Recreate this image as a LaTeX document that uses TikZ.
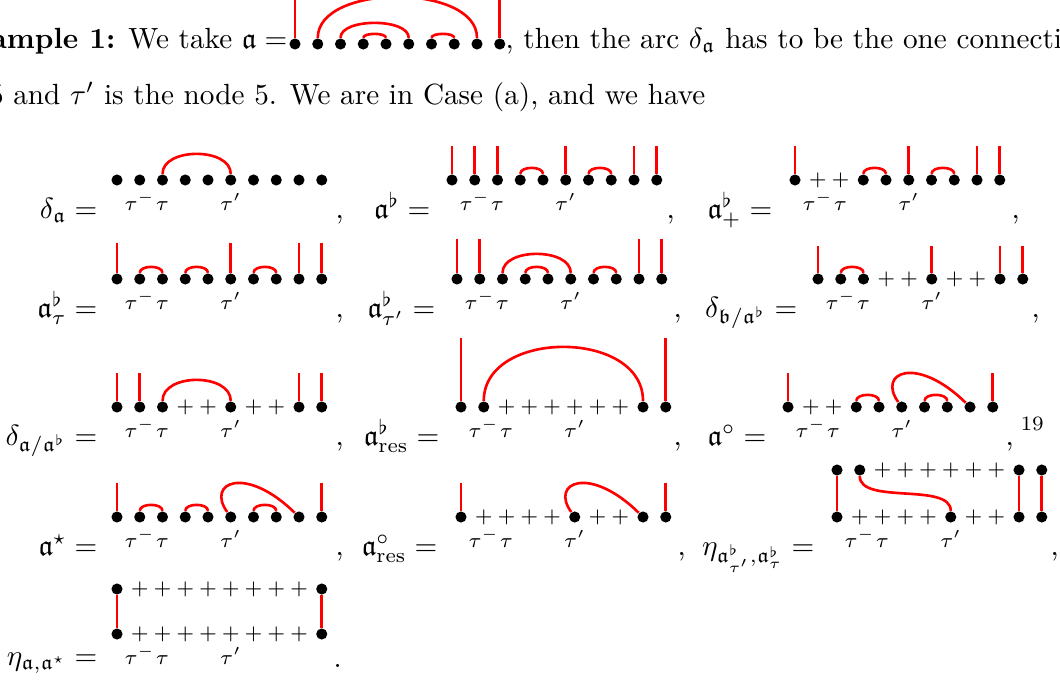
\documentclass[tikz,border=0pt]{standalone}
\usepackage{amssymb}
\usetikzlibrary{calc}
\tikzset{
  nd/.style={circle,fill=black,inner sep=0pt,minimum size=3.8pt},
  np/.style={inner sep=0pt,font=\scriptsize},
  rl/.style={draw=red,line width=0.9pt},
  lab/.style={anchor=base,inner sep=0pt,font=\scriptsize},
  eqn/.style={anchor=base east,inner sep=0pt},
  txt/.style={anchor=base west,inner sep=0pt},
}
\newcommand\mkrow[4]{\foreach \ty [count=\i] in {#4} {\node[n\ty] (#1\i) at ({#2+22.75*(\i-1)},#3) {\if\ty p$+$\fi};}}
\newcommand\mklab[2]{%
  \node[lab] (#1lm) at (#12 |- 0,#2) {$\tau^-$};
  \node[lab] (#1lt) at (#13 |- 0,#2) {$\tau$};
  \node[lab] (#1lp) at (#16 |- 0,#2) {$\tau'$};}
\newcommand\vl[2]{\coordinate (#1t) at ($(#1)+(0,-#2)$); \draw[rl] (#1) -- (#1t);}
\newcommand\arcc[3]{\draw[rl] (#1) .. controls +(0,{-(#3-1.4)/0.75}) and +(0,{-(#3-1.4)/0.75}) .. (#2);}
\newcommand\xarc[2]{\draw[rl] (#1) .. controls +(-25,-35) and +(-53,-52) .. (#2);}
\begin{document}
\begin{tikzpicture}[x=0.3425pt,y=-0.3425pt]
\useasboundingbox (0,0) rectangle (1060,681);
\clip (0,0) rectangle (1060,681);
% top text
\node[eqn] (t1) at (288,48) {\textbf{Example 1:} We take $\mathfrak{a}=$};
\node[txt] (t2) at (505,48) {, then the arc $\delta_{\mathfrak a}$ has to be the one connecting};
\node[eqn] (t3) at (706,104) {5 and $\tau'$ is the node 5. We are in Case (a), and we have};
\mkrow{T}{295}{44}{d,d,d,d,d,d,d,d,d,d}
\vl{T1}{52}\vl{T10}{52}
\arcc{T2}{T9}{47}\arcc{T3}{T6}{21}\arcc{T4}{T5}{10}\arcc{T7}{T8}{10}
% row 1
\node[eqn] (eA) at (98,218) {$\delta_{\mathfrak a} =$};
\mkrow{A}{117}{180}{d,d,d,d,d,d,d,d,d,d}
\arcc{A3}{A6}{26}
\mklab{A}{210}
\node[txt] (cA) at (335,218) {,};
\node[eqn] (eB) at (431,218) {$\mathfrak a^\flat =$};
\mkrow{B}{452}{180}{d,d,d,d,d,d,d,d,d,d}
\vl{B1}{34}\vl{B2}{34}\vl{B3}{34}\vl{B6}{34}\vl{B9}{34}\vl{B10}{34}
\arcc{B4}{B5}{12}\arcc{B7}{B8}{12}
\mklab{B}{210}
\node[txt] (cB) at (666,218) {,};
\node[eqn] (eC) at (773,218) {$\mathfrak a^\flat_+ =$};
\mkrow{C}{795}{180}{d,p,p,d,d,d,d,d,d,d}
\vl{C1}{34}\vl{C6}{34}\vl{C9}{34}\vl{C10}{34}
\arcc{C4}{C5}{12}\arcc{C7}{C8}{12}
\mklab{C}{210}
\node[txt] (cC) at (1011,218) {,};
% row 2
\node[eqn] (eD) at (98,317) {$\mathfrak a^\flat_\tau =$};
\mkrow{D}{117}{279}{d,d,d,d,d,d,d,d,d,d}
\vl{D1}{36}\vl{D6}{36}\vl{D9}{36}\vl{D10}{36}
\arcc{D2}{D3}{12}\arcc{D4}{D5}{12}\arcc{D7}{D8}{12}
\mklab{D}{309}
\node[txt] (cD) at (335,317) {,};
\node[eqn] (eE) at (436,317) {$\mathfrak a^\flat_{\tau'} =$};
\mkrow{E}{457}{279}{d,d,d,d,d,d,d,d,d,d}
\vl{E1}{40}\vl{E2}{40}\vl{E9}{40}\vl{E10}{40}
\arcc{E3}{E6}{25}\arcc{E4}{E5}{12}\arcc{E7}{E8}{12}
\mklab{E}{309}
\node[txt] (cE) at (673,317) {,};
\node[eqn] (eF) at (798,317) {$\delta_{\mathfrak b/\mathfrak a^\flat} =$};
\mkrow{F}{818}{279}{d,d,d,p,p,d,p,p,d,d}
\vl{F1}{33}\vl{F6}{33}\vl{F9}{33}\vl{F10}{33}
\arcc{F2}{F3}{12}
\mklab{F}{309}
\node[txt] (cF) at (1031,317) {,};
% row 3
\node[eqn] (eG) at (98,445) {$\delta_{\mathfrak a/\mathfrak a^\flat} =$};
\mkrow{G}{117}{407}{d,d,d,p,p,d,p,p,d,d}
\vl{G1}{34}\vl{G2}{34}\vl{G9}{34}\vl{G10}{34}
\arcc{G3}{G6}{27}
\mklab{G}{437}
\node[txt] (cG) at (335,445) {,};
\node[eqn] (eH) at (440,445) {$\mathfrak a^\flat_{\mathrm{res}} =$};
\mkrow{H}{461}{407}{d,d,p,p,p,p,p,p,d,d}
\vl{H1}{69}\vl{H10}{69}
\arcc{H2}{H9}{60}
\mklab{H}{437}
\node[txt] (cH) at (673,445) {,};
\node[eqn] (eI) at (767,445) {$\mathfrak a^\circ =$};
\mkrow{I}{788}{407}{d,p,p,d,d,d,d,d,d,d}
\vl{I1}{34}\vl{I10}{34}
\arcc{I4}{I5}{12}\arcc{I7}{I8}{12}
\xarc{I6}{I9}
\mklab{I}{437}
\node[txt] (cI) at (1005,445) {,};
\node[txt,font=\scriptsize] (fn) at (1020,430) {19};
% row 4
\node[eqn] (eJ) at (98,555) {$\mathfrak a^\star =$};
\mkrow{J}{117}{517}{d,d,d,d,d,d,d,d,d,d}
\vl{J1}{34}\vl{J10}{34}
\arcc{J2}{J3}{12}\arcc{J4}{J5}{12}\arcc{J7}{J8}{12}
\xarc{J6}{J9}
\mklab{J}{547}
\node[txt] (cJ) at (335,555) {,};
\node[eqn] (eK) at (438,555) {$\mathfrak a^\circ_{\mathrm{res}} =$};
\mkrow{K}{461}{517}{d,p,p,p,p,d,p,p,d,d}
\vl{K1}{34}\vl{K10}{34}
\xarc{K6}{K9}
\mklab{K}{547}
\node[txt] (cK) at (677,555) {,};
\node[eqn] (eL) at (815,555) {$\eta_{\mathfrak a^\flat_{\tau'},\mathfrak a^\flat_\tau} =$};
\mkrow{Lt}{837}{470}{d,d,p,p,p,p,p,p,d,d}
\mkrow{Lb}{837}{517}{d,p,p,p,p,d,p,p,d,d}
\draw[rl] (Lt1) -- (Lb1);
\draw[rl] (Lt9) -- (Lb9);
\draw[rl] (Lt10) -- (Lb10);
\draw[rl] (Lt2) .. controls +(0,35) and +(0,-35) .. (Lb6);
\mklab{Lb}{547}
\node[txt] (cL) at (1050,555) {,};
% row 5
\node[eqn] (eM) at (98,665) {$\eta_{\mathfrak a,\mathfrak a^\star} =$};
\mkrow{Mt}{117}{589}{d,p,p,p,p,p,p,p,p,d}
\mkrow{Mb}{117}{634}{d,p,p,p,p,p,p,p,p,d}
\draw[rl] (Mt1) -- (Mb1);
\draw[rl] (Mt10) -- (Mb10);
\mklab{Mb}{664}
\node[txt] (cM) at (333,667) {.};
\end{tikzpicture}
\end{document}
